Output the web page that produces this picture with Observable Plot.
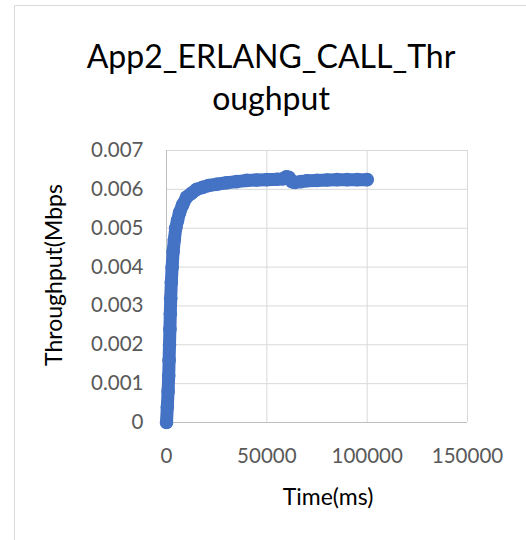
<!DOCTYPE html>
<html>
<head>
<meta charset="utf-8">
<script src="https://cdn.jsdelivr.net/npm/d3@7"></script>
<script src="https://cdn.jsdelivr.net/npm/@observablehq/plot@0.6"></script>
<style>
  html, body { margin: 0; padding: 0; background: #fff; }
  #chart { position: relative; width: 526px; height: 540px; overflow: hidden; }
</style>
</head>
<body>
<div id="chart"></div>
<script>
// ---- data ----
const titleLines = ["App2_ERLANG_CALL_Thr", "oughput"];
const xLabel = "Time(ms)";
const yLabel = "Throughput(Mbps";
const xTicks = [0, 50000, 100000, 150000];
const yTicks = [0, 0.001, 0.002, 0.003, 0.004, 0.005, 0.006, 0.007];
const timeMs = [
  0, 400, 800, 1100, 1300, 1500, 1700, 1900, 2100, 2400,
  2800, 3300, 3900, 4600, 5500, 6500, 8000, 10000, 12500, 15000,
  18000, 21000, 25000, 30000, 35000, 40000, 45000, 50000, 55000, 58000,
  59700, 61000, 62500, 64000, 67000, 70000, 75000, 80000, 85000, 90000,
  95000, 100000
];
const throughput = [
  0, 0.0004, 0.0008, 0.0012, 0.0016, 0.0020, 0.0024, 0.0028, 0.0032, 0.0036,
  0.0040, 0.0044, 0.0047, 0.0050, 0.0052, 0.0054, 0.0056, 0.0058, 0.0059, 0.0060,
  0.00605, 0.0061, 0.00613, 0.00617, 0.0062, 0.00623, 0.00624, 0.00625, 0.00626, 0.00627,
  0.00632, 0.00631, 0.0062, 0.00618, 0.0062, 0.00622, 0.00623, 0.00624, 0.00625, 0.00625,
  0.00625, 0.00625
];
const data = timeMs.map((t, i) => ({t, v: throughput[i]}));

const blue = "#4472C4";
const fontFamily = "Lato, 'Open Sans', sans-serif";

const plot = Plot.plot({
  width: 526,
  height: 540,
  marginLeft: 166,
  marginRight: 59,
  marginTop: 150,
  marginBottom: 118,
  style: {fontFamily, fontSize: "20.5px", color: "#595959", background: "transparent"},
  x: {domain: [0, 150000]},
  y: {domain: [0, 0.007]},
  marks: [
    Plot.gridX(xTicks, {stroke: "#d9d9d9", strokeOpacity: 1}),
    Plot.gridY(yTicks, {stroke: "#d9d9d9", strokeOpacity: 1}),
    Plot.ruleX([0], {stroke: "#bfbfbf"}),
    Plot.ruleY([0], {stroke: "#bfbfbf"}),
    Plot.axisX({ticks: xTicks, tickSize: 0, tickPadding: 26, tickFormat: d => String(d), label: null}),
    Plot.axisY({ticks: yTicks, tickSize: 0, tickPadding: 23, tickFormat: d => d === 0 ? "0" : d.toFixed(3), label: null}),
    Plot.line(data, {x: "t", y: "v", stroke: blue, strokeWidth: 13, strokeLinecap: "round", strokeLinejoin: "round"}),
    Plot.dot(data, {x: "t", y: "v", r: 6.8, fill: blue})
  ]
});

const svg = d3.select(plot);
// chart area border (left & top visible)
svg.insert("path", ":first-child")
  .attr("d", "M14.5,540V5.5H526")
  .attr("fill", "none").attr("stroke", "#d9d9d9");
// title
svg.append("text").attr("x", 271).attr("y", 68).attr("text-anchor", "middle")
  .attr("fill", "#000").style("font-size", "32px").style("font-family", fontFamily)
  .text(titleLines[0]);
svg.append("text").attr("x", 271).attr("y", 110).attr("text-anchor", "middle")
  .attr("fill", "#000").style("font-size", "32px").style("font-family", fontFamily)
  .text(titleLines[1]);
// axis titles
svg.append("text").attr("x", 328).attr("y", 505).attr("text-anchor", "middle")
  .attr("fill", "#000").style("font-size", "23px").style("font-family", fontFamily)
  .text(xLabel);
svg.append("text").attr("transform", "translate(62,275) rotate(-90)").attr("text-anchor", "middle")
  .attr("fill", "#000").style("font-size", "23px").style("font-family", fontFamily)
  .text(yLabel);

document.getElementById("chart").appendChild(plot);
</script>
</body>
</html>
